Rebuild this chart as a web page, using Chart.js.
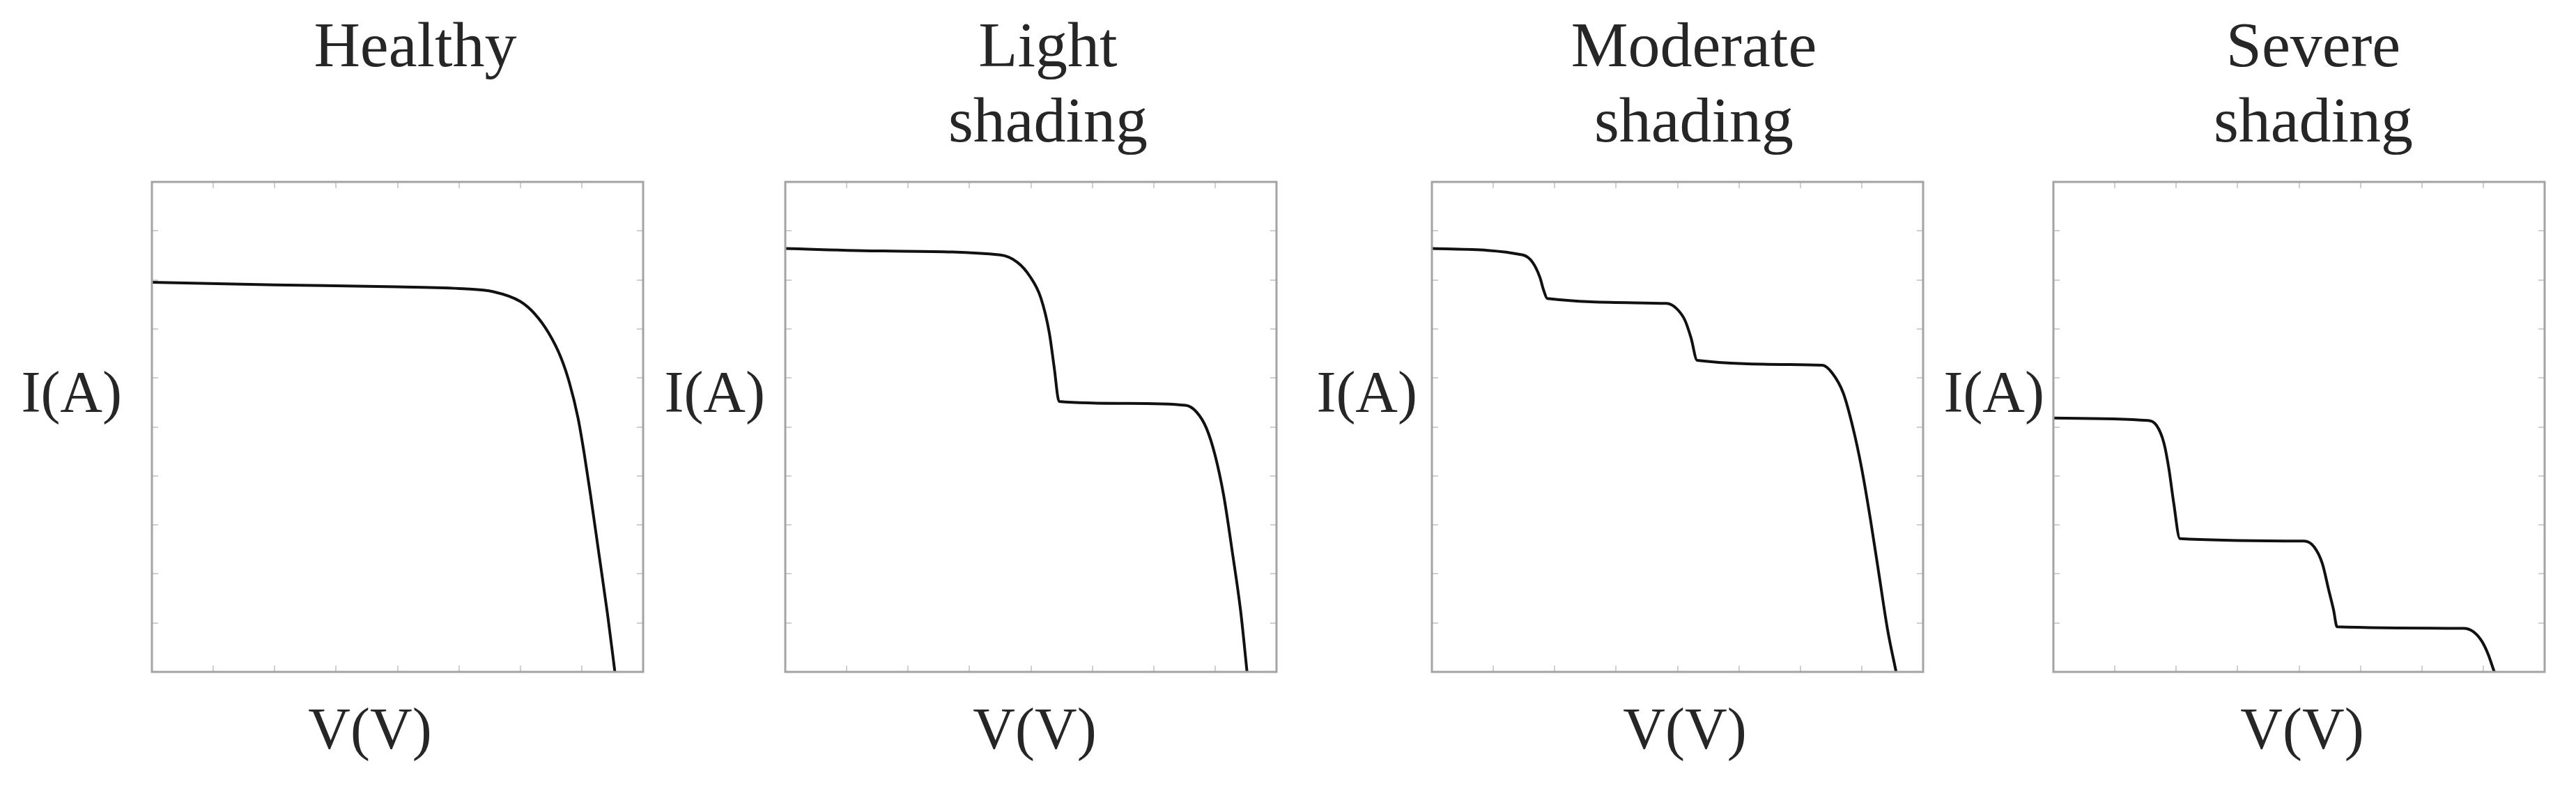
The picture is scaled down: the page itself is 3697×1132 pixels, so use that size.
<!DOCTYPE html>
<html>
<head>
<meta charset="utf-8">
<script src="https://cdn.jsdelivr.net/npm/chart.js@4.4.1/dist/chart.umd.min.js"></script>
<style>
  html, body { margin: 0; padding: 0; background: #fff; }
  #page { position: relative; width: 3697px; height: 1132px; overflow: hidden; background: #fff; }
  canvas { position: absolute; }
  .txt { position: absolute; font-family: "Liberation Serif", "Times New Roman", serif; color: #262626; white-space: nowrap; }
  .title { font-size: 92px; line-height: 108px; width: 600px; text-align: center; }
  .ylab { font-size: 84px; line-height: 84px; width: 300px; text-align: right; }
  .xlab { font-size: 84px; line-height: 84px; width: 400px; text-align: center; }
</style>
</head>
<body>
<div id="page"></div>
<script>
// Panel titles
const panelTitles = [['Healthy'], ['Light', 'shading'], ['Moderate', 'shading'], ['Severe', 'shading']];
const xLabel = 'V(V)';
const yLabel = 'I(A)';

// Axis ticks (no labels shown, only tick marks)
const xTicks = [0, 5, 10, 15, 20, 25, 30, 35, 40];
const yTicks = [0, 1, 2, 3, 4, 5, 6, 7, 8, 9, 10];

// I-V curves
const healthyV = [0, 10, 20, 25.4, 27.8, 30.0, 31.2, 32.3, 33.3, 34.0, 34.7, 35.2, 35.7, 36.4, 37.1, 37.7];
const healthyI = [7.95, 7.9, 7.86, 7.82, 7.76, 7.56, 7.30, 6.92, 6.42, 5.90, 5.18, 4.46, 3.64, 2.41, 1.18, 0];

const lightV = [0, 8, 17.5, 18.9, 19.9, 20.8, 21.5, 21.9, 22.3, 28, 32.6, 33.5, 34.3, 35.0, 35.7, 36.4, 37.1, 37.6];
const lightI = [8.64, 8.59, 8.51, 8.36, 8.08, 7.64, 6.92, 6.21, 5.52, 5.48, 5.44, 5.30, 4.97, 4.42, 3.60, 2.45, 1.20, 0];

const moderateV = [0, 7.4, 8.2, 8.8, 9.1, 9.4, 19.1, 19.9, 20.6, 21.1, 21.6, 31.8, 32.6, 33.5, 34.3, 35.0, 35.7, 36.4, 37.1, 37.8];
const moderateI = [8.64, 8.51, 8.36, 8.05, 7.79, 7.62, 7.52, 7.42, 7.18, 6.82, 6.36, 6.26, 6.10, 5.69, 4.97, 4.15, 3.13, 2.0, 0.87, 0];

const severeV = [0, 7.7, 8.4, 9.0, 9.4, 9.8, 10.3, 20.4, 21.2, 21.9, 22.4, 22.8, 23.1, 33.4, 34.2, 34.9, 35.4, 35.9];
const severeI = [5.18, 5.13, 5.03, 4.67, 4.15, 3.44, 2.72, 2.67, 2.56, 2.21, 1.69, 1.28, 0.92, 0.89, 0.82, 0.62, 0.36, 0];

const seriesV = [healthyV, lightV, moderateV, severeV];
const seriesI = [healthyI, lightI, moderateI, severeI];

// Layout: plot box of each panel in page pixels
const panelLeft = [218, 1127, 2055, 2947];
const panelTop = 261;
const panelW = 705;
const panelH = 703;
const pad = 12;
const titleCenter = [596, 1504, 2431, 3320];
const ylabRight = [175, 1098, 2034, 2934];
const xlabCenter = [531, 1485, 2418, 3304];

const page = document.getElementById('page');

// frame with inward tick marks on all four sides
const frameTicks = {
  id: 'frameTicks',
  afterDatasetsDraw(chart) {
    const { ctx, chartArea: a, scales: { x, y } } = chart;
    const len = 9;
    ctx.save();
    ctx.strokeStyle = '#cfcfcf';
    ctx.lineWidth = 2;
    ctx.beginPath();
    xTicks.forEach(v => {
      const px = Math.round(x.getPixelForValue(v));
      ctx.moveTo(px, a.bottom); ctx.lineTo(px, a.bottom - len);
      ctx.moveTo(px, a.top); ctx.lineTo(px, a.top + len);
    });
    yTicks.forEach(v => {
      const py = Math.round(y.getPixelForValue(v));
      ctx.moveTo(a.left, py); ctx.lineTo(a.left + len, py);
      ctx.moveTo(a.right, py); ctx.lineTo(a.right - len, py);
    });
    ctx.stroke();
    ctx.strokeStyle = '#a3a3a3';
    ctx.lineWidth = 3;
    ctx.strokeRect(a.left, a.top, a.right - a.left, a.bottom - a.top);
    ctx.restore();
  }
};

function addText(cls, html, left, top) {
  const d = document.createElement('div');
  d.className = 'txt ' + cls;
  d.innerHTML = html;
  d.style.left = left + 'px';
  d.style.top = top + 'px';
  page.appendChild(d);
}

panelTitles.forEach((title, i) => {
  const cv = document.createElement('canvas');
  cv.width = panelW + 2 * pad;
  cv.height = panelH + 2 * pad;
  cv.style.left = (panelLeft[i] - pad) + 'px';
  cv.style.top = (panelTop - pad) + 'px';
  page.appendChild(cv);

  const pts = seriesV[i].map((v, k) => ({ x: v, y: seriesI[i][k] }));

  new Chart(cv.getContext('2d'), {
    type: 'line',
    data: {
      datasets: [{
        data: pts,
        borderColor: '#111',
        borderWidth: 4,
        pointRadius: 0,
        fill: false,
        cubicInterpolationMode: 'monotone'
      }]
    },
    options: {
      responsive: false,
      animation: false,
      layout: { padding: pad },
      plugins: { legend: { display: false }, tooltip: { enabled: false }, title: { display: false } },
      scales: {
        x: { type: 'linear', display: false, min: xTicks[0], max: xTicks[xTicks.length - 1] },
        y: { type: 'linear', display: false, min: yTicks[0], max: yTicks[yTicks.length - 1] }
      }
    },
    plugins: [frameTicks]
  });

  addText('title', title.join('<br>'), titleCenter[i] - 300, 10);
  addText('ylab', yLabel, ylabRight[i] - 300, 521);
  addText('xlab', xLabel, xlabCenter[i] - 200, 1004);
});
</script>
</body>
</html>
